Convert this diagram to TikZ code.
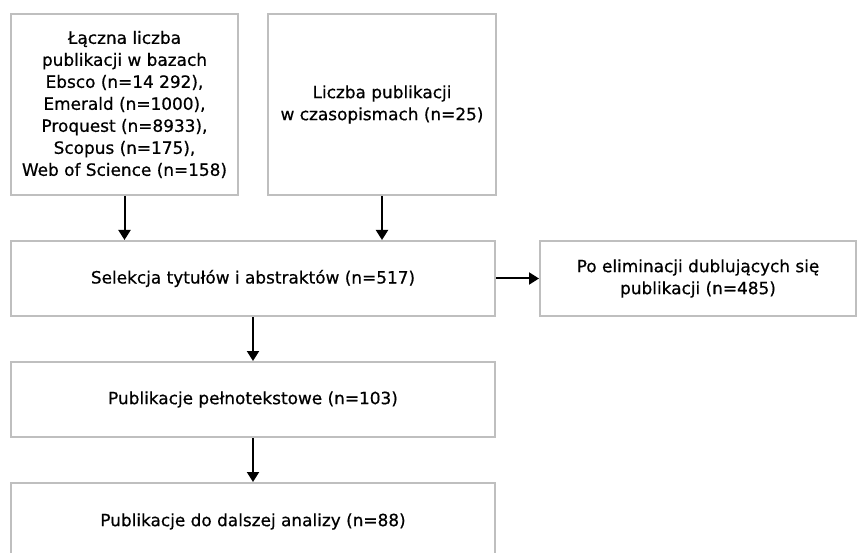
\documentclass[tikz,border=0pt]{standalone}
\usepackage{fontspec}
\setmainfont{DejaVu Sans}[FakeBold=0.6]
\usetikzlibrary{arrows.meta}
\begin{document}
\begin{tikzpicture}[x=1pt,y=-1pt,
  box/.style={draw=black!25, line width=2pt, fill=white, align=center, inner sep=0pt,
    font=\fontsize{16.9}{22}\selectfont},
  arr/.style={draw=black, line width=2pt, -{Triangle[length=10pt,width=12pt]}}]
\clip (0,0) rectangle (859,553);
\useasboundingbox (0,0) rectangle (859,553);
\node[box, minimum width=227pt, minimum height=181pt] (a) at (124.5,104.5)
  {Łączna liczba\\publikacji w bazach\\Ebsco (n=14 292),\\Emerald (n=1000),\\Proquest (n=8933),\\Scopus (n=175),\\Web of Science (n=158)};
\node[box, minimum width=228pt, minimum height=181pt] (b) at (382,104.5)
  {Liczba publikacji\\w czasopismach (n=25)};
\node[box, minimum width=484pt, minimum height=75pt] (c) at (253,278.5)
  {Selekcja tytułów i abstraktów (n=517)};
\node[box, minimum width=316pt, minimum height=75pt] (d) at (698,278.5)
  {Po eliminacji dublujących się\\publikacji (n=485)};
\node[box, minimum width=484pt, minimum height=75pt] (e) at (253,399.5)
  {Publikacje pełnotekstowe (n=103)};
\node[box, minimum width=484pt, minimum height=77pt] (f) at (253,521.5)
  {Publikacje do dalszej analizy (n=88)};
\draw[arr] (a.south) -- (a.south |- c.north);
\draw[arr] (b.south) -- (b.south |- c.north);
\draw[arr] (c.east) -- (d.west);
\draw[arr] (c.south) -- (e.north);
\draw[arr] (e.south) -- (f.north);
\end{tikzpicture}
\end{document}
